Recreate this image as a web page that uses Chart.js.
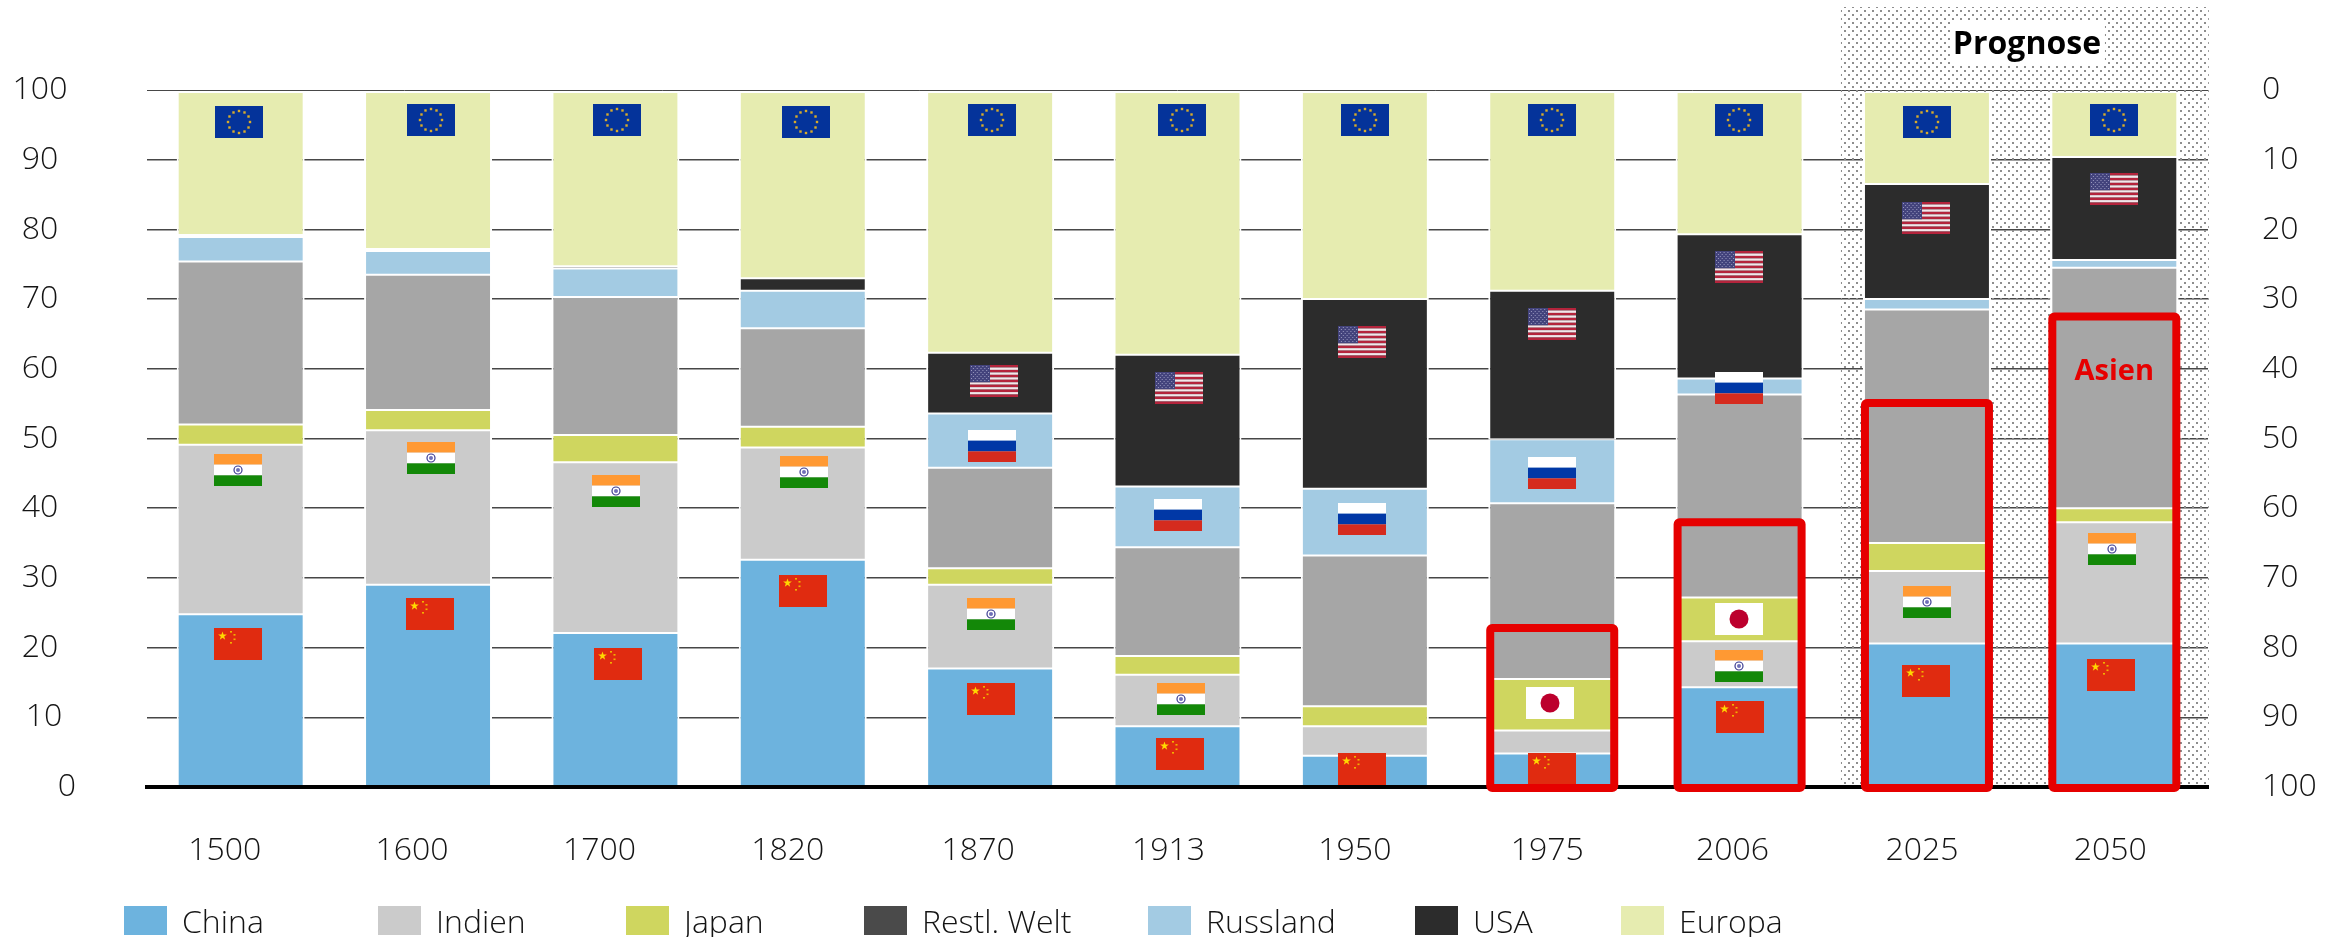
<!DOCTYPE html>
<html lang="de">
<head>
<meta charset="utf-8">
<title>Anteile am Welt-BIP</title>
<script src="https://cdn.jsdelivr.net/npm/chart.js@4"></script>
<style>
    html, body { margin: 0; padding: 0; background: #fff; }
    canvas { display: block; }
</style>
</head>
<body>
<canvas id="shareChart" width="2341" height="937"></canvas>
<script>
// Values, in percent
const years = ["1500", "1600", "1700", "1820", "1870", "1913", "1950", "1975", "2006", "2025", "2050"];
const china = [24.8, 29.0, 22.1, 32.6, 17.0, 8.7, 4.5, 4.8, 14.3, 20.6, 20.6];
const indien = [24.3, 22.2, 24.5, 16.1, 12.0, 7.4, 4.2, 3.3, 6.6, 10.4, 17.4];
const japan = [2.9, 2.9, 3.9, 3.0, 2.4, 2.7, 2.9, 7.4, 6.3, 4.0, 2.0];
const restWelt = [23.4, 19.4, 19.8, 14.1, 14.4, 15.6, 21.6, 25.2, 29.1, 33.5, 34.5];
const russland = [3.5, 3.4, 4.1, 5.4, 7.8, 8.7, 9.6, 9.2, 2.3, 1.5, 1.1];
const usa = [0.3, 0.3, 0.3, 1.8, 8.7, 18.9, 27.2, 21.3, 20.7, 16.5, 14.8];
const europa = [20.5, 22.5, 25.0, 26.7, 37.4, 37.7, 29.7, 28.5, 20.4, 13.2, 9.3];

// Top of the red "Asien" frames, in percent
const asienTop = [null, null, null, null, null, null, null, 22.8, 38.0, 55.1, 67.5];

const seriesNames = ["China", "Indien", "Japan", "Restl. Welt", "Russland", "USA", "Europa"];
const seriesValues = [china, indien, japan, restWelt, russland, usa, europa];
const barColors = ["#6db3de", "#cbcbcb", "#cfd65f", "#a6a6a6", "#a3cbe3", "#2c2c2c", "#e6ecb0"];
const legendColors = ["#6db3de", "#cbcbcb", "#cfd65f", "#4a4a4a", "#a3cbe3", "#2c2c2c", "#e6ecb0"];
const legendLeft = [124, 378, 626, 864, 1148, 1415, 1621];

// Flags: [category index, value at the flag's top edge, small x nudge]
const flagSpots = {
    eu: [[0, 97.7, -2], [1, 98, 2.5], [2, 98, 1.5], [3, 97.7, 3.5], [4, 98, 1.5], [5, 98, 4], [6, 98, 0], [7, 98, 0], [8, 98, -1], [9, 97.7, 0], [10, 98, 0]],
    usa: [[4, 60.5, 3.5], [5, 59.5, 1.5], [6, 66.1, -3], [7, 68.7, 0], [8, 76.9, -1], [9, 83.9, -1], [10, 88.1, 0]],
    russia: [[4, 51.2, 1.5], [5, 41.3, 0.5], [6, 40.7, -2.5], [7, 47.3, 0], [8, 59.5, -1]],
    india: [[0, 47.8, -2.5], [1, 49.5, 2.5], [2, 44.8, 1], [3, 47.5, 1], [4, 27.1, 1], [5, 14.9, 3], [8, 19.7, -1], [9, 28.8, 0], [10, 36.4, -2]],
    china: [[0, 22.8, -2.5], [1, 27.1, 1.5], [2, 19.9, 2.5], [3, 30.4, 0.5], [4, 14.9, 1], [5, 7.0, 2], [6, 4.9, -3], [7, 4.9, 0], [8, 12.3, 0], [9, 17.5, -1], [10, 18.4, -3.5]],
    japan: [[7, 14.3, -2], [8, 26.4, -1]]
};

// The year labels drift a little to the left of their bars in the original
const yearNudge = [-16, -16, -16, -15, -12, -9, -10, -5, -7, -5, -4];
// Left axis labels are centred on one line, except these two
const leftLabelCenter = { 0: 67, 10: 44 };

const FONT = "'Open Sans', 'Noto Sans', sans-serif";
const TEXT_COLOR = "#141414";
const FLAG_W = 48;
const FLAG_H = 32;

const flagPainters = {
    eu: function (ctx, x, y) {
        ctx.fillStyle = "#04339a";
        ctx.fillRect(x, y, FLAG_W, FLAG_H);
        ctx.fillStyle = "#d9ac2a";
        for (let i = 0; i < 12; i++) {
            const a = i * Math.PI / 6;
            ctx.fillRect(x + 24 + Math.cos(a) * 11 - 1.2, y + 16 + Math.sin(a) * 11 - 1.2, 2.4, 2.4);
        }
    },
    usa: function (ctx, x, y) {
        for (let i = 0; i < 13; i++) {
            ctx.fillStyle = i % 2 ? "#f4e6ea" : "#b4243c";
            ctx.fillRect(x, y + i * FLAG_H / 13, FLAG_W, FLAG_H / 13);
        }
        ctx.fillStyle = "#43437c";
        ctx.fillRect(x, y, 20, FLAG_H * 7 / 13);
        ctx.fillStyle = "#9a9ac0";
        for (let r = 0; r < 8; r++) {
            for (let c = r % 2; c < 10; c += 2) {
                ctx.fillRect(x + 1 + c * 1.9, y + 1 + r * 2, 1, 1);
            }
        }
    },
    russia: function (ctx, x, y) {
        ctx.fillStyle = "#ffffff";
        ctx.fillRect(x, y, FLAG_W, FLAG_H / 3);
        ctx.fillStyle = "#0138a6";
        ctx.fillRect(x, y + FLAG_H / 3, FLAG_W, FLAG_H / 3);
        ctx.fillStyle = "#d52b1e";
        ctx.fillRect(x, y + FLAG_H * 2 / 3, FLAG_W, FLAG_H / 3);
    },
    india: function (ctx, x, y) {
        ctx.fillStyle = "#ff9933";
        ctx.fillRect(x, y, FLAG_W, FLAG_H / 3);
        ctx.fillStyle = "#ffffff";
        ctx.fillRect(x, y + FLAG_H / 3, FLAG_W, FLAG_H / 3);
        ctx.fillStyle = "#138808";
        ctx.fillRect(x, y + FLAG_H * 2 / 3, FLAG_W, FLAG_H / 3);
        ctx.strokeStyle = "#3a3a90";
        ctx.lineWidth = 1.2;
        ctx.beginPath();
        ctx.arc(x + 24, y + 16, 4, 0, Math.PI * 2);
        ctx.stroke();
        ctx.fillStyle = "#6f6fb8";
        ctx.beginPath();
        ctx.arc(x + 24, y + 16, 2, 0, Math.PI * 2);
        ctx.fill();
    },
    china: function (ctx, x, y) {
        ctx.fillStyle = "#e02b10";
        ctx.fillRect(x, y, FLAG_W, FLAG_H);
        ctx.fillStyle = "#ffd800";
        ctx.beginPath();
        for (let i = 0; i < 10; i++) {
            const a = -Math.PI / 2 + i * Math.PI / 5;
            const r = i % 2 ? 1.8 : 4.6;
            ctx.lineTo(x + 8.5 + Math.cos(a) * r, y + 8 + Math.sin(a) * r);
        }
        ctx.fill();
        ctx.fillStyle = "#f2b300";
        [[16, 3], [19.5, 6], [19.5, 10.5], [16, 14]].forEach(function (p) {
            ctx.fillRect(x + p[0], y + p[1], 2, 1.6);
        });
    },
    japan: function (ctx, x, y) {
        ctx.fillStyle = "#ffffff";
        ctx.fillRect(x, y, FLAG_W, FLAG_H);
        ctx.fillStyle = "#bc002d";
        ctx.beginPath();
        ctx.arc(x + 24, y + 16, 9.5, 0, Math.PI * 2);
        ctx.fill();
    }
};

function dotTile() {
    const tile = document.createElement("canvas");
    tile.width = 8;
    tile.height = 8;
    const t = tile.getContext("2d");
    t.fillStyle = "#8e8e8e";
    t.fillRect(0, 2, 2, 2);
    t.fillRect(4, 6, 2, 2);
    return tile;
}

// Dotted forecast panel, sits above the grid lines but below the bars
const prognosePanel = {
    id: "prognosePanel",
    beforeDatasetsDraw(chart) {
        const ctx = chart.ctx;
        const x = chart.scales.x;
        const y = chart.scales.y;
        const left = x.getPixelForValue(9) - 86;
        const right = x.getPixelForValue(10) + 94.5;
        const bottom = y.getPixelForValue(0);
        ctx.save();
        ctx.fillStyle = ctx.createPattern(dotTile(), "repeat");
        ctx.fillRect(left, 7, right - left, bottom - 7);
        ctx.fillStyle = "#fff";
        ctx.fillRect(left + 110, 20, 154, 45);
        // keep the dots from showing through the white gaps of the two forecast bars
        [9, 10].forEach(function (i) {
            ctx.fillRect(x.getPixelForValue(i) - 64, y.getPixelForValue(99.7), 128, bottom - y.getPixelForValue(99.7));
        });
        ctx.fillStyle = "#000";
        ctx.font = "700 32px " + FONT;
        ctx.textAlign = "center";
        ctx.textBaseline = "middle";
        ctx.fillText("Prognose", left + 186, 45);
        ctx.restore();
    }
};

// Flags, red frames, year labels, left axis labels and the legend
const annotations = {
    id: "annotations",
    afterDraw(chart) {
        const ctx = chart.ctx;
        const x = chart.scales.x;
        const y = chart.scales.y;
        ctx.save();

        Object.keys(flagSpots).forEach(function (kind) {
            flagSpots[kind].forEach(function (spot) {
                const left = Math.round(x.getPixelForValue(spot[0]) + spot[2] - FLAG_W / 2);
                flagPainters[kind](ctx, left, Math.round(y.getPixelForValue(spot[1])));
            });
        });

        ctx.strokeStyle = "#e60000";
        ctx.lineWidth = 8;
        ctx.lineJoin = "round";
        asienTop.forEach(function (top, i) {
            if (top === null) return;
            const cx = x.getPixelForValue(i);
            const py = y.getPixelForValue(top);
            ctx.beginPath();
            ctx.roundRect(cx - 62, py, 124, y.getPixelForValue(0) + 1 - py, 2);
            ctx.stroke();
        });

        ctx.fillStyle = "#e60000";
        ctx.font = "700 29px " + FONT;
        ctx.textAlign = "center";
        ctx.textBaseline = "middle";
        ctx.fillText("Asien", x.getPixelForValue(10), y.getPixelForValue(59.6));

        ctx.fillStyle = TEXT_COLOR;
        ctx.font = "300 32px " + FONT;
        years.forEach(function (year, i) {
            ctx.fillText(year, x.getPixelForValue(i) + yearNudge[i], 851);
        });
        y.ticks.forEach(function (tick) {
            const cx = leftLabelCenter[tick.value] || 40;
            ctx.fillText(String(tick.value), cx, y.getPixelForValue(tick.value));
        });

        ctx.textAlign = "left";
        seriesNames.forEach(function (name, i) {
            ctx.fillStyle = legendColors[i];
            ctx.fillRect(legendLeft[i], 906, 43, 29);
            ctx.fillStyle = TEXT_COLOR;
            ctx.fillText(name, legendLeft[i] + 58, 924);
        });
        ctx.restore();
    }
};

new Chart(document.getElementById("shareChart").getContext("2d"), {
    type: "bar",
    data: {
        labels: years,
        datasets: seriesNames.map(function (name, i) {
            return {
                label: name,
                data: seriesValues[i],
                backgroundColor: barColors[i],
                borderColor: "#ffffff",
                borderWidth: { top: 1, bottom: 1, left: 2, right: 2 },
                borderSkipped: false
            };
        })
    },
    options: {
        responsive: false,
        animation: false,
        layout: { padding: { top: 90, left: 0, right: 0, bottom: 0 } },
        datasets: { bar: { categoryPercentage: 1, barPercentage: 0.683 } },
        plugins: {
            legend: { display: false },
            title: { display: false },
            tooltip: { enabled: false }
        },
        scales: {
            x: {
                stacked: true,
                afterFit: function (scale) { scale.height = 150; },
                grid: { display: false },
                ticks: { display: false },
                border: { display: true, color: "#000000", width: 4, z: 2 }
            },
            y: {
                stacked: true,
                min: 0,
                max: 100,
                afterFit: function (scale) { scale.width = 147; },
                grid: {
                    drawTicks: false,
                    color: "#474747",
                    lineWidth: function (c) { return c.tick && c.tick.value === 100 ? 1 : 1.5; }
                },
                border: { display: false },
                ticks: { display: false, stepSize: 10 }
            },
            y2: {
                position: "right",
                reverse: true,
                min: 0,
                max: 100,
                afterFit: function (scale) { scale.width = 133; },
                grid: { display: false, drawTicks: false },
                border: { display: false },
                ticks: {
                    stepSize: 10,
                    padding: 54,
                    color: TEXT_COLOR,
                    font: { family: FONT, size: 32, weight: "300" }
                }
            }
        }
    },
    plugins: [prognosePanel, annotations]
});
</script>
</body>
</html>
